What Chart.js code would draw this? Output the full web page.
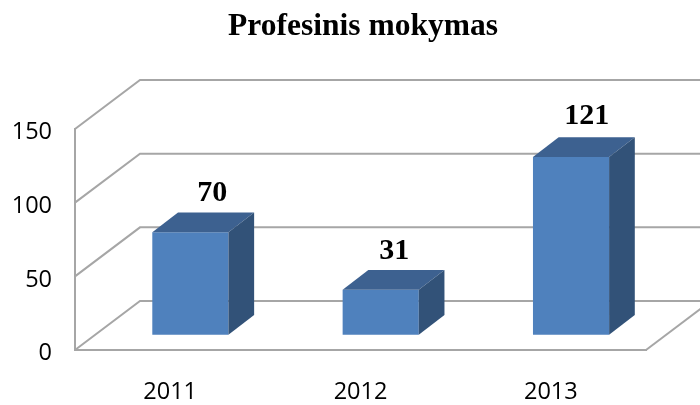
<!DOCTYPE html>
<html>
<head>
<meta charset="utf-8">
<script src="https://cdn.jsdelivr.net/npm/chart.js@4"></script>
<style>
  html, body { margin: 0; padding: 0; background: #fff; }
  canvas { display: block; }
</style>
</head>
<body>
<canvas id="chart" width="700" height="405"></canvas>
<script>
const categories = ['2011', '2012', '2013'];
const values = [70, 31, 121];
const yTicks = [0, 50, 100, 150];
const titleText = 'Profesinis mokymas';

// fake 3D depths, in pixels
const wallDx = 65, wallDy = 49;
const barDx = 25.7, barDy = 19.7;
const barShiftX = 20.2, barShiftY = 14.7;
const gridColor = '#a6a6a6';
// value labels are not placed evenly in the original
const labelNudgeX = [22, 13.5, 15.7];
const labelNudgeY = [11, 11, 13];

const fake3d = {
  id: 'fake3d',
  afterLayout(chart) {
    // title is centred over the plot with its depth, not the padded box
    chart.titleBlock.left = 26;
    chart.titleBlock.right = 700;
  },
  beforeDatasetsDraw(chart) {
    const { ctx, chartArea: a, scales: { y } } = chart;
    ctx.save();
    ctx.strokeStyle = gridColor;
    ctx.lineWidth = 2;
    yTicks.forEach(v => {
      const py = y.getPixelForValue(v);
      ctx.beginPath();
      ctx.moveTo(a.left, py);
      ctx.lineTo(a.left + wallDx, py - wallDy);
      ctx.lineTo(700, py - wallDy);
      ctx.stroke();
    });
    // right edge of the floor
    const py = y.getPixelForValue(0);
    ctx.beginPath();
    ctx.moveTo(a.right, py);
    ctx.lineTo(a.right + wallDx, py - wallDy);
    ctx.stroke();
    ctx.restore();
  },
  beforeDatasetDraw(chart) {
    chart.ctx.save();
    chart.ctx.translate(barShiftX, -barShiftY);
  },
  afterDatasetDraw(chart, args) {
    const ctx = chart.ctx;
    args.meta.data.forEach((el, i) => {
      const { x, y, width, base } = el.getProps(['x', 'y', 'width', 'base'], true);
      const l = x - width / 2, r = x + width / 2;
      ctx.fillStyle = '#3d6190';
      ctx.beginPath();
      ctx.moveTo(l, y);
      ctx.lineTo(l + barDx, y - barDy);
      ctx.lineTo(r + barDx, y - barDy);
      ctx.lineTo(r, y);
      ctx.closePath();
      ctx.fill();
      ctx.fillStyle = '#325278';
      ctx.beginPath();
      ctx.moveTo(r, y);
      ctx.lineTo(r + barDx, y - barDy);
      ctx.lineTo(r + barDx, base - barDy);
      ctx.lineTo(r, base);
      ctx.closePath();
      ctx.fill();

      ctx.fillStyle = '#000';
      ctx.font = 'bold 30px "Liberation Serif"';
      ctx.textAlign = 'center';
      ctx.textBaseline = 'alphabetic';
      ctx.fillText(String(values[i]), x + labelNudgeX[i], y - barDy - labelNudgeY[i]);
    });
    ctx.restore();
  }
};

new Chart(document.getElementById('chart'), {
  type: 'bar',
  data: {
    labels: categories,
    datasets: [{
      data: values,
      backgroundColor: '#4f81bd',
      barPercentage: 0.4,
      categoryPercentage: 1
    }]
  },
  options: {
    responsive: false,
    animation: false,
    layout: { padding: { right: 54 } },
    plugins: {
      legend: { display: false },
      tooltip: { enabled: false },
      title: {
        display: true,
        text: titleText,
        color: '#000',
        font: { family: '"Liberation Serif"', size: 31.5, weight: 'bold', lineHeight: 1.2 },
        padding: { top: 8, bottom: 83.2 }
      }
    },
    scales: {
      x: {
        grid: { drawOnChartArea: false, drawTicks: false },
        border: { color: gridColor, width: 2 },
        ticks: { color: '#000', padding: 28, font: { family: '"Open Sans"', size: 23.5 }, maxRotation: 0 },
        afterFit(axis) { axis.height = 55; }
      },
      y: {
        min: yTicks[0],
        max: yTicks[yTicks.length - 1],
        grid: { drawOnChartArea: false, drawTicks: false },
        border: { color: gridColor, width: 2 },
        ticks: { color: '#000', padding: 23, labelOffset: 3.5, font: { family: '"Open Sans"', size: 23.5 } },
        afterBuildTicks(axis) { axis.ticks = yTicks.map(value => ({ value })); },
        afterFit(axis) { axis.width = 75; }
      }
    }
  },
  plugins: [fake3d]
});
</script>
</body>
</html>
